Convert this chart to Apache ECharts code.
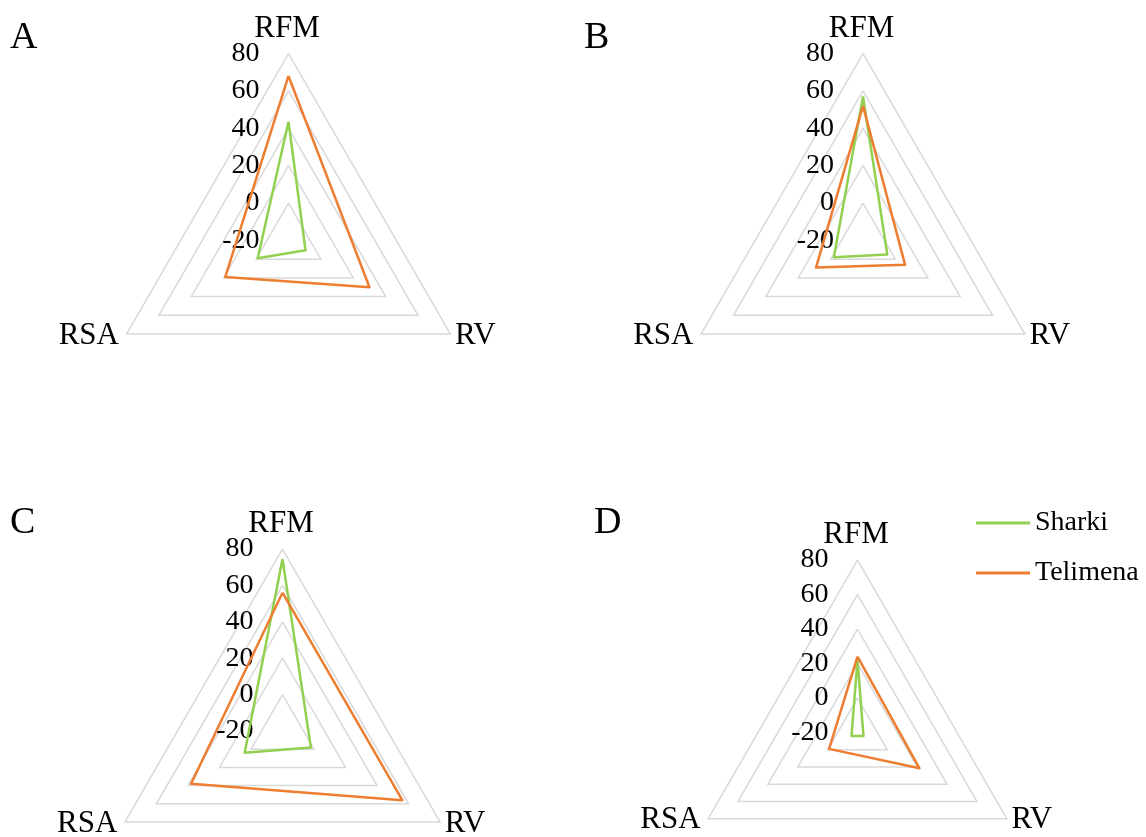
<!DOCTYPE html>
<html>
<head>
<meta charset="utf-8">
<script src="https://cdn.jsdelivr.net/npm/echarts@6/dist/echarts.min.js"></script>
<style>
  html, body { margin: 0; padding: 0; background: #fff; }
  #chart { width: 1146px; height: 837px; }
</style>
</head>
<body>
<div id="chart"></div>
<script>
// Radar axes, listed counter-clockwise from the top
const indicatorNames = ['RFM', 'RSA', 'RV'];
const scaleMin = -20;
const scaleMax = 80;
const panelLetters = ['A', 'B', 'C', 'D'];
const seriesNames = ['Sharki', 'Telimena'];

// Values per panel, in indicator order: RFM, RSA, RV
const sharkiA = [43.5, -1, -9.5];
const telimenaA = [68, 19, 30];
const sharkiB = [57, -2, -5];
const telimenaB = [52, 9, 6];
const sharkiC = [74.5, 4, -2];
const telimenaC = [56, 38, 56];
const sharkiD = [22, -16, -16];
const telimenaD = [24, -1, 21.5];

const panelData = [
  [sharkiA, telimenaA],
  [sharkiB, telimenaB],
  [sharkiC, telimenaC],
  [sharkiD, telimenaD]
];

// Layout of the four radars
const panelLayout = [
  { center: [288.5, 240.5], radius: 187, letter: [5, 14] },
  { center: [863, 240.5], radius: 187, letter: [579, 14] },
  { center: [282.5, 731], radius: 182, letter: [5, 499] },
  { center: [857.5, 732.5], radius: 172.5, letter: [589, 499] }
];

const colors = { Sharki: '#92D050', Telimena: '#ED7D31' };
const serif = 'Liberation Serif, Times New Roman, serif';

const radars = panelLayout.map(p => ({
  center: p.center,
  radius: p.radius,
  startAngle: 90,
  shape: 'polygon',
  splitNumber: 5,
  indicator: indicatorNames.map((n, i) => {
    const ind = { name: n, min: scaleMin, max: scaleMax, nameMoveOverlap: false };
    if (i !== 0) ind.axisLabel = { show: false };
    return ind;
  }),
  // top padding only shifts the side names (middle aligned);
  // the top name is bottom aligned and rises with the bottom padding
  axisName: {
    color: '#000', fontFamily: serif, fontSize: 31,
    padding: [17, 5, 6.5, 2]
  },
  axisNameGap: 3,
  nameGap: 3,
  axisLine: { show: false },
  axisTick: { show: false },
  axisLabel: {
    show: true, color: '#000', fontFamily: serif, fontSize: 28,
    margin: 29, showMinLabel: true, showMaxLabel: true
  },
  splitLine: { lineStyle: { color: '#D9D9D9', width: 1.5 } },
  splitArea: { show: false }
}));

const series = [];
panelData.forEach((pair, r) => {
  pair.forEach((vals, s) => {
    const name = seriesNames[s];
    series.push({
      type: 'radar',
      radarIndex: r,
      name: name,
      symbol: 'none',
      lineStyle: { width: 2.5, color: colors[name] },
      itemStyle: { color: colors[name] },
      data: [{ value: vals, name: name }]
    });
  });
});

const titles = panelLayout.map((p, i) => ({
  text: panelLetters[i],
  left: p.letter[0],
  top: p.letter[1],
  textStyle: { fontFamily: serif, fontSize: 38, fontWeight: 'normal', color: '#000' }
}));

const chart = echarts.init(document.getElementById('chart'), null, { renderer: 'canvas' });
chart.setOption({
  animation: false,
  backgroundColor: '#fff',
  title: titles,
  legend: {
    orient: 'vertical',
    left: 971,
    top: 504,
    icon: 'rect',
    itemWidth: 54,
    itemHeight: 3,
    itemGap: 22,
    textStyle: { fontFamily: serif, fontSize: 28, color: '#000' },
    data: seriesNames
  },
  radar: radars,
  series: series
});
</script>
</body>
</html>
